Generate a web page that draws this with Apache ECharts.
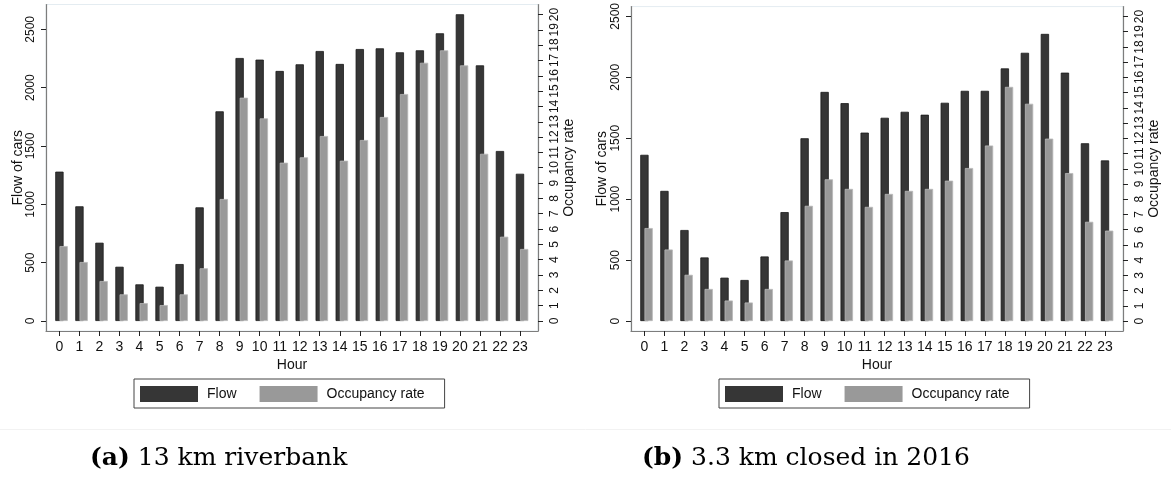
<!DOCTYPE html>
<html><head><meta charset="utf-8">
<script src="https://cdn.jsdelivr.net/npm/echarts@6/dist/echarts.min.js"></script>
<style>html,body{margin:0;padding:0;background:#fff}#c{width:1171px;height:480px}</style>
</head><body><div id="c"></div>
<script>
// ---- data ----
const hours = [0,1,2,3,4,5,6,7,8,9,10,11,12,13,14,15,16,17,18,19,20,21,22,23];
const flowA = [1280, 983, 671, 465, 314, 294, 488, 974, 1797, 2254, 2240, 2143, 2200, 2314, 2203, 2331, 2337, 2303, 2320, 2466, 2629, 2191, 1457, 1262];
const occA  = [4.89, 3.85, 2.61, 1.74, 1.17, 1.04, 1.74, 3.44, 7.96, 14.57, 13.22, 10.33, 10.68, 12.07, 10.46, 11.81, 13.31, 14.81, 16.85, 17.66, 16.68, 10.91, 5.50, 4.70];
const flowB = [1364, 1068, 747, 522, 356, 337, 530, 894, 1500, 1880, 1788, 1546, 1668, 1717, 1693, 1791, 1889, 1889, 2073, 2201, 2356, 2038, 1459, 1318];
const occB  = [6.11, 4.70, 3.04, 2.11, 1.35, 1.22, 2.11, 3.98, 7.57, 9.31, 8.68, 7.50, 8.35, 8.55, 8.68, 9.22, 10.05, 11.53, 15.38, 14.27, 11.98, 9.72, 6.52, 5.94];
const flowTicks = [0, 500, 1000, 1500, 2000, 2500];
const occTicks = [0,1,2,3,4,5,6,7,8,9,10,11,12,13,14,15,16,17,18,19,20];
const hourTicks = hours;
const seriesNames = ['Flow', 'Occupancy rate'];
const axisNames = ['Hour', 'Flow of cars', 'Occupancy rate'];
const captionTags = ['(a)', '(b)'];
const captionTexts = ['13 km riverbank', '3.3 km closed in 2016'];

// ---- layout / style ----
const SANS = 'Liberation Sans, Arial, Helvetica, sans-serif';
const OCC_SHIFT = 0.21;
const plain = v => String(v);
const panels = [
  {left: 46,  flow: flowA, occ: occA, yL: [-85.7, 2712.6], yR: [-0.652, 20.65], nameGapL: 21, legendLeft: 134, capLeft: 90},
  {left: 631, flow: flowB, occ: occB, yL: [-81.5, 2580],   yR: [-0.652, 20.65], nameGapL: 22, legendLeft: 719, capLeft: 642}
];
const AXC = '#7d7d7d', TKC = '#222';

const grid = [], xAxis = [], yAxis = [], series = [], legend = [], title = [];
panels.forEach((p, k) => {
  grid.push({left: p.left, top: 4.5, width: 492, height: 326.5, show: true, borderColor: '#e4ecf1', borderWidth: 1, backgroundColor: 'transparent'});
  xAxis.push({
    type: 'value', gridIndex: k, min: -0.67, max: 23.9,
    name: axisNames[0], nameLocation: 'middle', nameGap: 27, nameMoveOverlap: false,
    nameTextStyle: {fontFamily: SANS, fontSize: 14, color: '#111'},
    axisLine: {onZero: false, lineStyle: {color: AXC, width: 1.2}},
    axisTick: {customValues: hourTicks, length: 5, lineStyle: {color: TKC}},
    axisLabel: {customValues: hourTicks, formatter: plain, margin: 9, fontFamily: SANS, fontSize: 14, color: '#111'},
    splitLine: {show: false}
  });
  yAxis.push({
    type: 'value', gridIndex: k, position: 'left', min: p.yL[0], max: p.yL[1],
    name: axisNames[1], nameLocation: 'middle', nameGap: p.nameGapL, nameRotate: 90, nameMoveOverlap: false,
    nameTextStyle: {fontFamily: SANS, fontSize: 14, color: '#111'},
    axisLine: {show: true, onZero: false, lineStyle: {color: AXC, width: 1.2}},
    axisTick: {show: true, customValues: flowTicks, length: 5, lineStyle: {color: TKC}},
    axisLabel: {customValues: flowTicks, formatter: plain, rotate: 90, margin: 9, fontFamily: SANS, fontSize: 12, color: '#111'},
    splitLine: {show: false}
  });
  yAxis.push({
    type: 'value', gridIndex: k, position: 'right', min: p.yR[0], max: p.yR[1],
    name: axisNames[2], nameLocation: 'middle', nameGap: 24, nameRotate: 90, nameMoveOverlap: false,
    nameTextStyle: {fontFamily: SANS, fontSize: 14, color: '#111'},
    axisLine: {show: true, onZero: false, lineStyle: {color: AXC, width: 1.2}},
    axisTick: {show: true, customValues: occTicks, length: 5, lineStyle: {color: TKC}},
    axisLabel: {customValues: occTicks, formatter: plain, rotate: 90, margin: 11, fontFamily: SANS, fontSize: 12, color: '#111'},
    splitLine: {show: false}
  });
  series.push({
    type: 'bar', name: seriesNames[0], xAxisIndex: k, yAxisIndex: 2 * k,
    data: hours.map((h, i) => [h, p.flow[i]]),
    barWidth: 8.3, barGap: '-100%', z: 2,
    itemStyle: {color: '#363636', borderColor: '#1b1b1b', borderWidth: 0.8}
  });
  series.push({
    type: 'bar', name: seriesNames[1], xAxisIndex: k, yAxisIndex: 2 * k + 1,
    data: hours.map((h, i) => [h + OCC_SHIFT, p.occ[i]]),
    barWidth: 8.3, barGap: '-100%', z: 3,
    itemStyle: {color: '#999999', borderColor: '#b9b9b9', borderWidth: 0.8}
  });
  legend.push({
    data: seriesNames, left: p.legendLeft, top: 379, orient: 'horizontal',
    icon: 'rect', itemWidth: 58, itemHeight: 16, itemGap: 23,
    itemStyle: {borderWidth: 0},
    padding: [7, 20, 6, 6], borderColor: '#444', borderWidth: 1, backgroundColor: '#fff',
    textStyle: {fontFamily: SANS, fontSize: 14, color: '#111', padding: [0, 0, 0, 4]},
    selectedMode: false
  });
  title.push({
    text: '{b|' + captionTags[k] + '} ' + captionTexts[k],
    left: p.capLeft, top: 446, padding: 0,
    textStyle: {fontFamily: 'DejaVu Serif', fontSize: 25, fontWeight: 'normal', color: '#000',
      rich: {b: {fontFamily: 'DejaVu Serif', fontSize: 25, fontWeight: 'bold', color: '#000'}}}
  });
});

const chart = echarts.init(document.getElementById('c'), null, {renderer: 'canvas'});
chart.setOption({
  animation: false,
  backgroundColor: '#fff',
  grid, xAxis, yAxis, series, legend, title,
  graphic: [{type: 'line', shape: {x1: 0, y1: 429.5, x2: 1171, y2: 429.5}, style: {stroke: '#f2f2f2', lineWidth: 1}, silent: true}]
});
</script></body></html>
